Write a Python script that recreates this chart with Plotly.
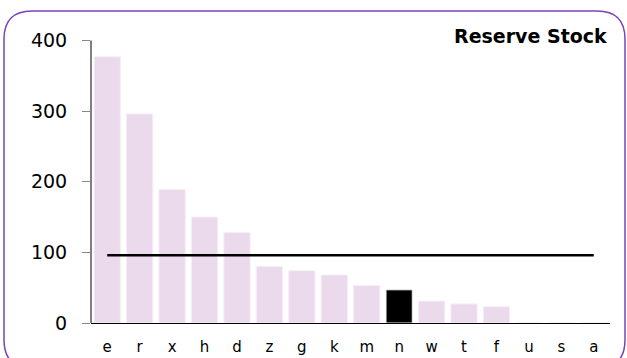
import plotly.graph_objects as go

categories = ["e", "r", "x", "h", "d", "z", "g", "k", "m", "n", "w", "t", "f", "u", "s", "a"]
values = [377, 296, 189, 150, 128, 80, 74, 68, 53, 47, 31, 27, 23, 0, 0, 0]
highlight = "n"
reference_value = 96
y_ticks = [0, 100, 200, 300, 400]
title_text = "Reserve Stock"

bar_colors = ["#000000" if c == highlight else "#EBD9EC" for c in categories]

fig = go.Figure()
fig.add_trace(go.Bar(
    x=categories, y=values,
    marker=dict(color=bar_colors, line=dict(color="#F6EEF7", width=1)),
    hoverinfo="x+y", showlegend=False,
))
fig.add_trace(go.Scatter(
    x=categories, y=[reference_value] * len(categories),
    mode="lines", line=dict(color="#000000", width=2.5),
    showlegend=False, hoverinfo="skip",
))

L, R, T, B = 91, 17, 35, 35
W, H = 627, 358
pw, ph = W - L - R, H - T - B

def px(x):
    return (x - L) / pw

def py(y):
    return (H - B - y) / ph

x0, x1, y0, y1, r = 4, 625, 11, 368, 28
path = (
    f"M {px(x0+r)},{py(y0)} L {px(x1-r)},{py(y0)} "
    f"Q {px(x1)},{py(y0)} {px(x1)},{py(y0+r)} "
    f"L {px(x1)},{py(y1-r)} Q {px(x1)},{py(y1)} {px(x1-r)},{py(y1)} "
    f"L {px(x0+r)},{py(y1)} Q {px(x0)},{py(y1)} {px(x0)},{py(y1-r)} "
    f"L {px(x0)},{py(y0+r)} Q {px(x0)},{py(y0)} {px(x0+r)},{py(y0)} Z"
)

fig.update_layout(
    width=W, height=H,
    margin=dict(l=L, r=R, t=T, b=B, pad=0),
    paper_bgcolor="white", plot_bgcolor="white",
    bargap=0.19,
    font=dict(family="DejaVu Sans, Verdana, sans-serif", color="#000000"),
    shapes=[dict(type="path", path=path, xref="paper", yref="paper",
                 line=dict(color="#7B44B8", width=1.5), layer="above")],
    annotations=[dict(text=f"<b>{title_text}</b>", xref="paper", yref="paper",
                      x=px(609), y=py(49), xanchor="right", yanchor="bottom",
                      showarrow=False, font=dict(size=19, color="#000000"))],
)
fig.update_xaxes(
    showline=True, linecolor="#000000", linewidth=1, automargin=False,
    ticks="", showgrid=False, zeroline=False,
    tickfont=dict(size=15), ticklabelstandoff=10,
)
fig.update_yaxes(
    range=[0, 400 * (323 - 35) / (323 - 40.5)], tickvals=y_ticks,
    showgrid=False, zeroline=False, automargin=False,
    showline=False,
    ticks="outside", ticklen=8, tickcolor="#888888", tickwidth=1,
    tickfont=dict(size=19), ticklabelstandoff=11,
)
# y-axis line from 0 to the top tick only
fig.add_shape(type="line", xref="paper", yref="y", x0=0, x1=0, y0=0, y1=y_ticks[-1],
              line=dict(color="#000000", width=1))

css_fix = (
    "var s=document.createElement('style');"
    "s.textContent='html,body{margin:0;padding:0;overflow:hidden;height:358px;width:627px;}';"
    "document.head.appendChild(s);"
)
fig.write_html("out.html", config={"displayModeBar": False}, post_script=css_fix)
